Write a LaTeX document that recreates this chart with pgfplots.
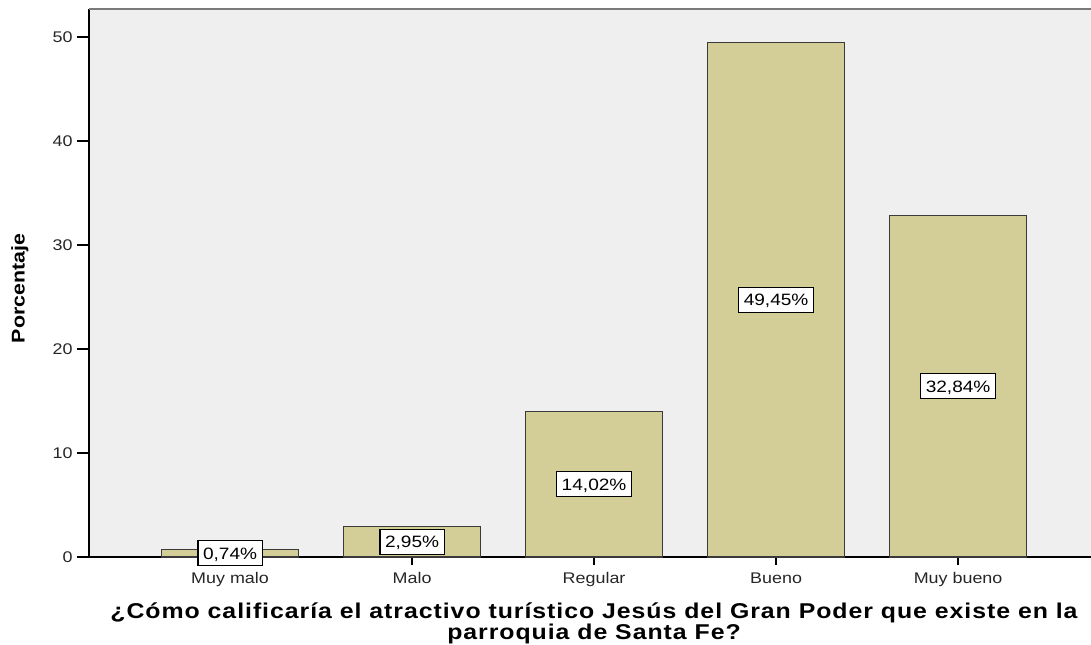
\documentclass[border=0pt]{standalone}
\usepackage{fontspec}
\setmainfont{Liberation Sans}[FakeStretch=1.16]
\newfontfamily\titlefont{Liberation Sans}[FakeStretch=1.16, LetterSpace=4.5]
\usepackage{pgfplots}
\pgfplotsset{compat=1.18}

\definecolor{plotbg}{HTML}{EFEFEF}
\definecolor{barfill}{HTML}{D3CE98}
\definecolor{baredge}{HTML}{3A3A3A}
\definecolor{topline}{HTML}{7A7A7A}

\begin{document}
\begin{tikzpicture}
\begin{axis}[
  scale only axis,
  width=1002bp, height=548bp,
  xmin=-0.775, xmax=4.73,
  ymin=0, ymax=52.7,
  clip=false,
  axis background/.style={fill=plotbg},
  axis x line*=bottom,
  axis y line*=left,
  axis line style={black, line width=1.3bp},
  /pgf/number format/assume math mode=true,
  ytick={0,10,20,30,40,50},
  xtick={0,1,2,3,4},
  xticklabels={Muy malo, Malo, Regular, Bueno, Muy bueno},
  tick align=outside,
  major tick length=12bp,
  x tick style={/pgfplots/major tick length=8bp},
  tick style={black, line width=1.3bp},
  ticklabel style={font=\fontsize{15.5}{18}\selectfont, text=black!85},
  yticklabel style={xshift=-1bp},
  ylabel={Porcentaje},
  every axis y label/.style={at={(axis description cs:-0.069,0.49)}, rotate=90, anchor=center,
    font=\bfseries\fontsize{18.5}{20}\selectfont},
  xlabel={¿Cómo calificaría el atractivo turístico Jesús del Gran Poder que existe en la\\parroquia de Santa Fe?},
  every axis x label/.style={at={(axis description cs:0.504,0)}, anchor=north, yshift=-46bp,
    align=center, inner sep=0pt, font=\titlefont\bfseries\fontsize{21.5}{20.5}\selectfont},
  ybar, bar width=137bp,
  visualization depends on={rawy \as \rawy},
  nodes near coords={\pgfmathprintnumber[fixed,fixed zerofill,precision=2,use comma]{\pgfplotspointmeta}\%},
  every node near coord/.append style={shift={(axis direction cs:0,-\rawy/2)}, anchor=center,
    fill=white, draw=black, line width=1.1bp, inner xsep=5bp, inner ysep=6.5bp,
    text height=12bp, text depth=0bp, font=\fontsize{16.5}{18}\selectfont},
]
\addplot[draw=baredge, line width=1.3bp, fill=barfill] coordinates {
  (0,0.74) (1,2.95) (2,14.02) (3,49.45) (4,32.84)
};
\draw[topline, line width=2.5bp] (rel axis cs:0,1) -- (rel axis cs:1,1);
\end{axis}
\pgfresetboundingbox
\path (-89bp,-88bp) rectangle (1002bp,557bp);
\end{tikzpicture}
\end{document}
